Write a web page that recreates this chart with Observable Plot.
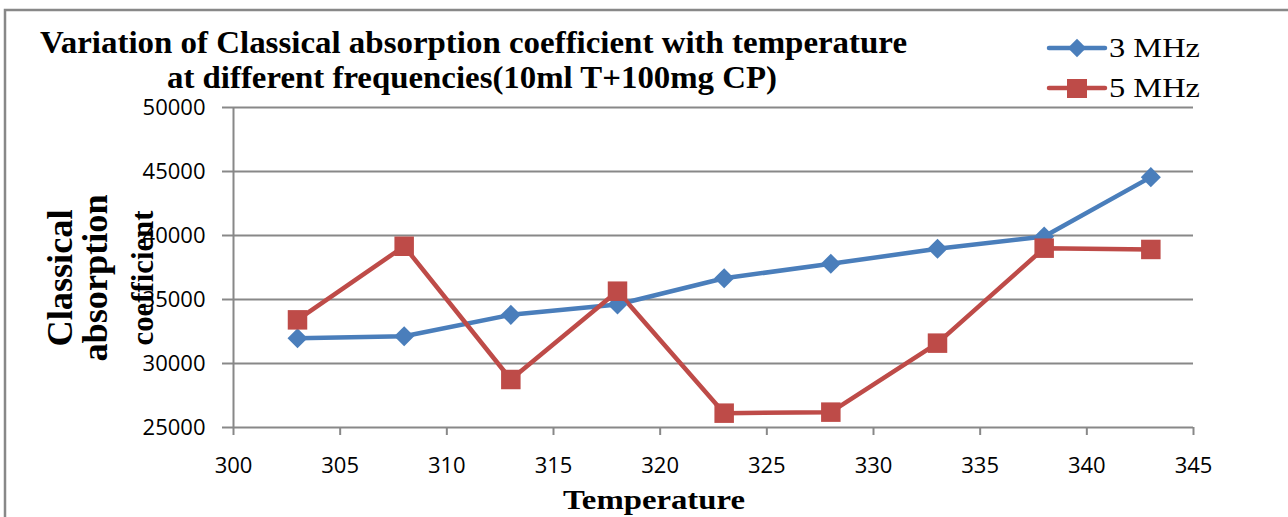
<!DOCTYPE html>
<html>
<head>
<meta charset="utf-8">
<script src="https://cdn.jsdelivr.net/npm/d3@7"></script>
<script src="https://cdn.jsdelivr.net/npm/@observablehq/plot@0.6"></script>
<style>
  html, body { margin: 0; padding: 0; background: #fff; }
  #chart { position: relative; width: 1288px; height: 517px; overflow: hidden; }
</style>
</head>
<body>
<div id="chart"></div>
<script>
// ---- data ----
const temperatures = [303, 308, 313, 318, 323, 328, 333, 338, 343];
const mhz3 = [31980, 32130, 33800, 34610, 36660, 37790, 38960, 39920, 44560];
const mhz5 = [33410, 39160, 28750, 35650, 26120, 26200, 31590, 39010, 38910];
const seriesNames = ["3 MHz", "5 MHz"];
const xTicks = [300, 305, 310, 315, 320, 325, 330, 335, 340, 345];
const yTicks = [25000, 30000, 35000, 40000, 45000, 50000];
const titleLines = ["Variation of Classical absorption coefficient with temperature",
                    "at different frequencies(10ml T+100mg CP)"];
const yLabelLines = ["Classical", "absorption", "coefficient"];
const xLabel = "Temperature";

const blue = "#4a7ebb", red = "#be4b48", grey = "#888888";
const d3MHz = temperatures.map((t, i) => ({t, v: mhz3[i]}));
const d5MHz = temperatures.map((t, i) => ({t, v: mhz5[i]}));

const plot = Plot.plot({
  width: 1288, height: 517,
  marginLeft: 233, marginRight: 95, marginTop: 107, marginBottom: 90,
  x: {domain: [300, 345]},
  y: {domain: [25000, 50000]},
  style: {fontFamily: "'Open Sans', sans-serif", fontSize: "22px", color: "#000", background: "transparent", overflow: "visible"},
  marks: [
    Plot.gridY(yTicks, {stroke: grey, strokeOpacity: 1, strokeWidth: 2}),
    Plot.ruleX([300], {stroke: grey, strokeWidth: 2}),
    Plot.axisY(yTicks, {tickSize: 11, tickPadding: 17, tickFormat: d => String(d), label: null, stroke: grey, strokeWidth: 2, fill: "#000"}),
    Plot.axisX(xTicks, {tickSize: 8, tickPadding: 22, tickFormat: d => String(d), label: null, stroke: grey, strokeWidth: 2, fill: "#000"}),
    Plot.line(d3MHz, {x: "t", y: "v", stroke: blue, strokeWidth: 4.5}),
    Plot.line(d5MHz, {x: "t", y: "v", stroke: red, strokeWidth: 4.5}),
    Plot.dot(d3MHz, {x: "t", y: "v", symbol: "square", r: 8, rotate: 45, fill: blue, stroke: "none"}),
    Plot.dot(d5MHz, {x: "t", y: "v", symbol: "square", r: 11, fill: red, stroke: "none"})
  ]
});
document.getElementById("chart").appendChild(plot);

const svg = d3.select(plot);
// border
svg.insert("rect", ":first-child").attr("x", 5).attr("y", 10).attr("width", 1290).attr("height", 520)
  .attr("fill", "#fff").attr("stroke", grey).attr("stroke-width", 2.5);

const serif = "'Liberation Serif', 'Times New Roman', serif";
function addText(x, y, s, size, weight, anchor, len, transform) {
  const t = svg.append("text")
    .style("font-family", serif).style("font-weight", weight).style("font-size", size + "px")
    .attr("text-anchor", anchor).attr("fill", "#000").text(s);
  if (transform) t.attr("transform", transform); else t.attr("x", x).attr("y", y);
  if (len) t.attr("textLength", len).attr("lengthAdjust", "spacingAndGlyphs");
  return t;
}
// title
addText(473.5, 53, titleLines[0], 31, "bold", "middle", 867);
addText(472, 88, titleLines[1], 31, "bold", "middle", 610);

// y label
const yl = [{x: 72, len: 137, fs: 36}, {x: 107, len: 167, fs: 36}, {x: 153, len: 135, fs: 31}];
yLabelLines.forEach((s, i) => {
  addText(0, 0, s, yl[i].fs, "bold", "middle", yl[i].len, `translate(${yl[i].x},278) rotate(-90)`);
});

// x label
addText(654, 509, xLabel, 28, "bold", "middle", 182);

// legend
const leg = [{y: 48, c: blue}, {y: 88, c: red}];
seriesNames.forEach((name, i) => {
  const g = svg.append("g");
  g.append("line").attr("x1", 1049).attr("x2", 1105).attr("y1", leg[i].y).attr("y2", leg[i].y)
    .attr("stroke", leg[i].c).attr("stroke-width", 4.5).attr("stroke-linecap", "round");
  if (i === 0) {
    g.append("rect").attr("x", -6.5).attr("y", -6.5).attr("width", 13).attr("height", 13)
      .attr("fill", blue).attr("transform", `translate(1077,${leg[i].y}) rotate(45)`);
  } else {
    g.append("rect").attr("x", 1077 - 10).attr("y", leg[i].y - 9).attr("width", 20).attr("height", 19).attr("fill", red);
  }
  addText(1109, leg[i].y + 9, name, 27, "normal", "start", 91);
});
</script>
</body>
</html>
